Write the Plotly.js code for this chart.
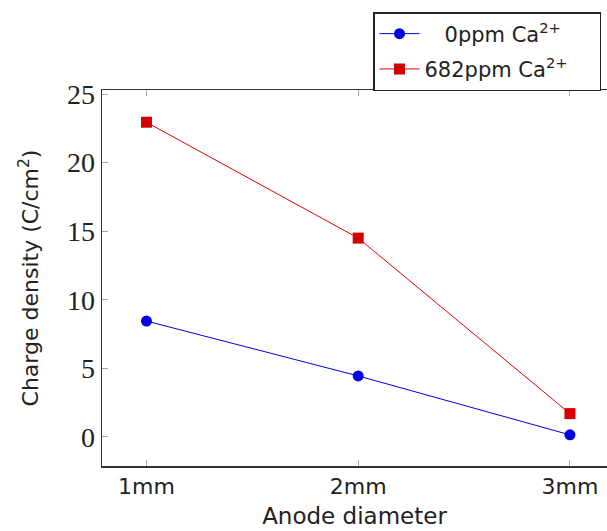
<!DOCTYPE html>
<html>
<head>
<meta charset="utf-8">
<script src="https://cdn.plot.ly/plotly-3.0.1.min.js"></script>
<style>html,body{margin:0;padding:0;background:#fff;}</style>
</head>
<body>
<div id="chart" style="width:607px;height:531px;"></div>
<script>
const categories = [1, 2, 3];
const tickLabels = ["1mm", "2mm", "3mm"];
const series0ppm = [8.45, 4.45, 0.15];
const series682ppm = [22.95, 14.5, 1.7];
const seriesNames = ["\u00a0\u00a0\u00a00ppm Ca<sup>2+</sup>", "682ppm Ca<sup>2+</sup>\u00a0\u00a0\u00a0\u00a0"];

const traces = [
  {
    x: categories, y: series0ppm, name: seriesNames[0], type: "scatter", mode: "lines+markers",
    legendgroup: "a",
    line: {color: "#0000e6", width: 1},
    marker: {color: "#0000e6", size: 11, symbol: "circle"}
  },
  {
    x: categories, y: series682ppm, name: seriesNames[1], type: "scatter", mode: "lines+markers",
    legendgroup: "b",
    line: {color: "#e00000", width: 1},
    marker: {color: "#d40000", size: 11, symbol: "square"}
  }
];

const layout = {
  width: 607, height: 531,
  margin: {l: 102, r: 0, t: 90, b: 65},
  paper_bgcolor: "#fff", plot_bgcolor: "#fff",
  showlegend: true,
  legend: {
    x: (373 - 102) / 505, y: (466 - 12) / 376, xanchor: "left", yanchor: "top",
    bordercolor: "#222", borderwidth: 1.5, bgcolor: "#fff",
    font: {family: "DejaVu Sans", size: 21, color: "#222"},
    tracegroupgap: 5, itemwidth: 40
  },
  xaxis: {
    range: [0.79, 3.175],
    tickvals: categories, ticktext: tickLabels,
    ticks: "inside", ticklen: 6, tickcolor: "#aaa", tickwidth: 1,
    showline: true, linecolor: "#333", linewidth: 1.5, mirror: "ticks",
    showgrid: false, zeroline: false,
    tickfont: {family: "DejaVu Sans", size: 22, color: "#222"},
    title: {text: "Anode diameter", font: {family: "DejaVu Sans", size: 23, color: "#222"}, standoff: 10}
  },
  yaxis: {
    range: [-2.12, 25.3],
    tickvals: [0, 5, 10, 15, 20, 25],
    ticks: "inside", ticklen: 6, tickcolor: "#aaa", tickwidth: 1,
    showline: true, linecolor: "#333", linewidth: 1.5, mirror: false,
    showgrid: false, zeroline: false,
    tickfont: {family: "Liberation Serif", size: 28, color: "#222"},
    title: {text: "Charge density (C/cm<sup>2</sup>)", font: {family: "DejaVu Sans", size: 22, color: "#222"}, standoff: 22}
  }
};

Plotly.newPlot("chart", traces, layout, {displayModeBar: false, staticPlot: true});
</script>
</body>
</html>
